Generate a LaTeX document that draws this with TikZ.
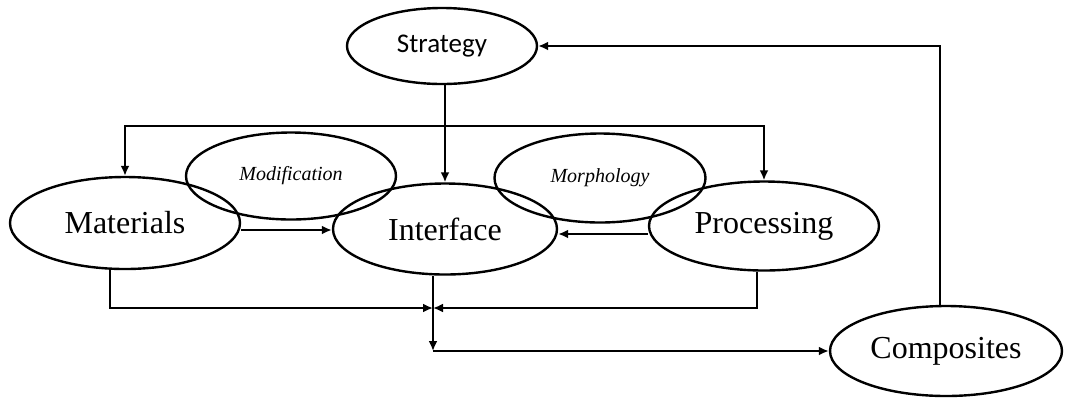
\documentclass[tikz,border=0pt]{standalone}
\usepackage{fontspec}
\setmainfont{Liberation Serif}
\newfontfamily\calib{Carlito}
\usetikzlibrary{arrows.meta,shapes.geometric}

\begin{document}
\begin{tikzpicture}[
   blob/.style={draw,ellipse,line width=1.2pt,inner sep=0pt,font=\fontsize{16}{18}\selectfont},
   side/.style={blob,font=\fontsize{10}{12}\selectfont\itshape},
   arr/.style={line width=1pt,-{Latex[length=5pt,width=4.5pt]}}]
   \begin{scope}[x=0.5pt,y=-0.5pt]
    \useasboundingbox (0,0) rectangle (1066,398);
    \node[blob,minimum width=95pt,minimum height=38pt,font=\calib\fontsize{13.5}{16}\selectfont] (strat) at (442,46) {Strategy};
    \node[side,minimum width=105pt,minimum height=43.5pt] (modif) at (291,176) {Modification};
    \node[side,minimum width=105.5pt,minimum height=44.5pt] (morph) at (600,178) {Morphology};
    \node[blob,minimum width=115pt,minimum height=46pt] (mat) at (125,223) {Materials};
    \node[blob,minimum width=112pt,minimum height=45.5pt] (inter) at (445,229) {Interface};
    \node[blob,minimum width=115pt,minimum height=44.5pt] (proc) at (764,226) {Processing};
    \node[blob,minimum width=116pt,minimum height=45pt] (comp) at (946,351) {Composites};
    \coordinate (split) at (445,126);
    \coordinate (join) at (433,308);
    \coordinate (mi) at (280,230);
    \coordinate (pi) at (600,234);
    \coordinate (md) at (110,0);
    \coordinate (pd) at (757,0);
    \coordinate (fb) at (940,48);
    \draw[arr] (split |- strat.south) -- (split |- inter.north);
    \draw[arr] (split) -| (mat.north);
    \draw[arr] (split) -| (proc.north);
    \draw[arr] (mat.east |- mi) -- (inter.west |- mi);
    \draw[arr] (proc.west |- pi) -- (inter.east |- pi);
    \draw[arr] (mat.south -| md) |- (join);
    \draw[arr] (proc.south -| pd) |- (join);
    \draw[arr] (inter.south -| join) -- (join |- comp.west);
    \draw[arr] (join |- comp.west) -- (comp.west);
    \draw[arr] (comp.north -| fb) |- (strat.east);
   \end{scope}
  \end{tikzpicture}
\end{document}
